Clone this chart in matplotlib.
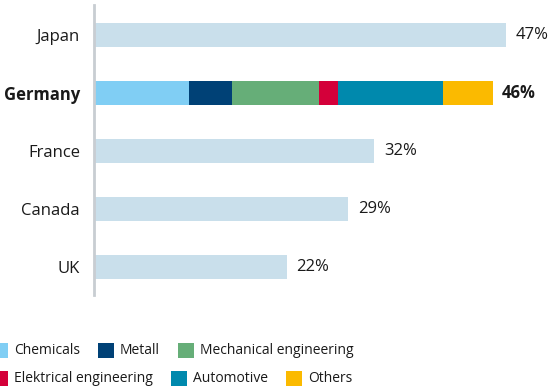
import matplotlib.pyplot as plt
from matplotlib.patches import Rectangle

plt.rcParams['font.family'] = ['Open Sans', 'DejaVu Sans']

# Anteile in Prozent
countries = ['Japan', 'Germany', 'France', 'Canada', 'UK']
totals = [47, 46, 32, 29, 22]
bar_lengths = [47, 45.5, 32, 29, 22]

# Aufteilung Deutschland nach Branchen
sectors = ['Chemicals', 'Metall', 'Mechanical engineering',
           'Elektrical engineering', 'Automotive', 'Others']
sector_values = [10.8, 4.9, 10.0, 2.1, 12.0, 5.7]
sector_colors = ['#80CEF4', '#004176', '#66AE78', '#D4003A', '#0089AD', '#FBBA00']

plain_color = '#C9DFEB'
text_color = '#1A1A1A'

fig = plt.figure(figsize=(5.52, 3.89), dpi=100)
W, H = 552, 389
ax = fig.add_axes([94 / W, 1 - 295 / H, 1 - 94 / W, 290 / H])

ypos = list(range(len(countries)))
bar_h = 0.41
for i, (c, v) in enumerate(zip(countries, bar_lengths)):
    if c == 'Germany':
        left = 0
        for val, col in zip(sector_values, sector_colors):
            ax.barh(i, val, left=left, height=bar_h, color=col, linewidth=0)
            left += val
        end = left
    else:
        ax.barh(i, v, height=bar_h, color=plain_color, linewidth=0)
        end = v
    bold = 'bold' if c == 'Germany' else 'normal'
    ax.text(end + 1.1, i, f'{totals[i]}%', va='center', ha='left',
            fontsize=12, color=text_color, fontweight=bold)

ax.set_xlim(0, 458 / 8.76)
ax.set_ylim(4.48, -0.52)
ax.set_yticks(ypos)
ax.set_yticklabels(countries, fontsize=12, color=text_color)
for lab in ax.get_yticklabels():
    if lab.get_text() == 'Germany':
        lab.set_fontweight('bold')
ax.tick_params(axis='y', length=0, pad=10)
ax.set_xticks([])
for s in ['top', 'right', 'bottom']:
    ax.spines[s].set_visible(False)
ax.spines['left'].set_color('#C8CDD2')
ax.spines['left'].set_linewidth(2)

# Legende in zwei Zeilen, frei fließend
rows = [(0, 3, 350), (3, 6, 378)]
fig.canvas.draw()
renderer = fig.canvas.get_renderer()
for start, stop, yc in rows:
    x = -8
    for k in range(start, stop):
        fig.patches.append(Rectangle((x / W, 1 - (yc + 8) / H), 16 / W, 15 / H,
                                     transform=fig.transFigure, color=sector_colors[k],
                                     linewidth=0))
        t = fig.text((x + 22) / W, 1 - yc / H, sectors[k], fontsize=10,
                     va='center', ha='left', color=text_color)
        bb = t.get_window_extent(renderer)
        x = bb.x1 + 18

fig.savefig('out.png', dpi=100)
